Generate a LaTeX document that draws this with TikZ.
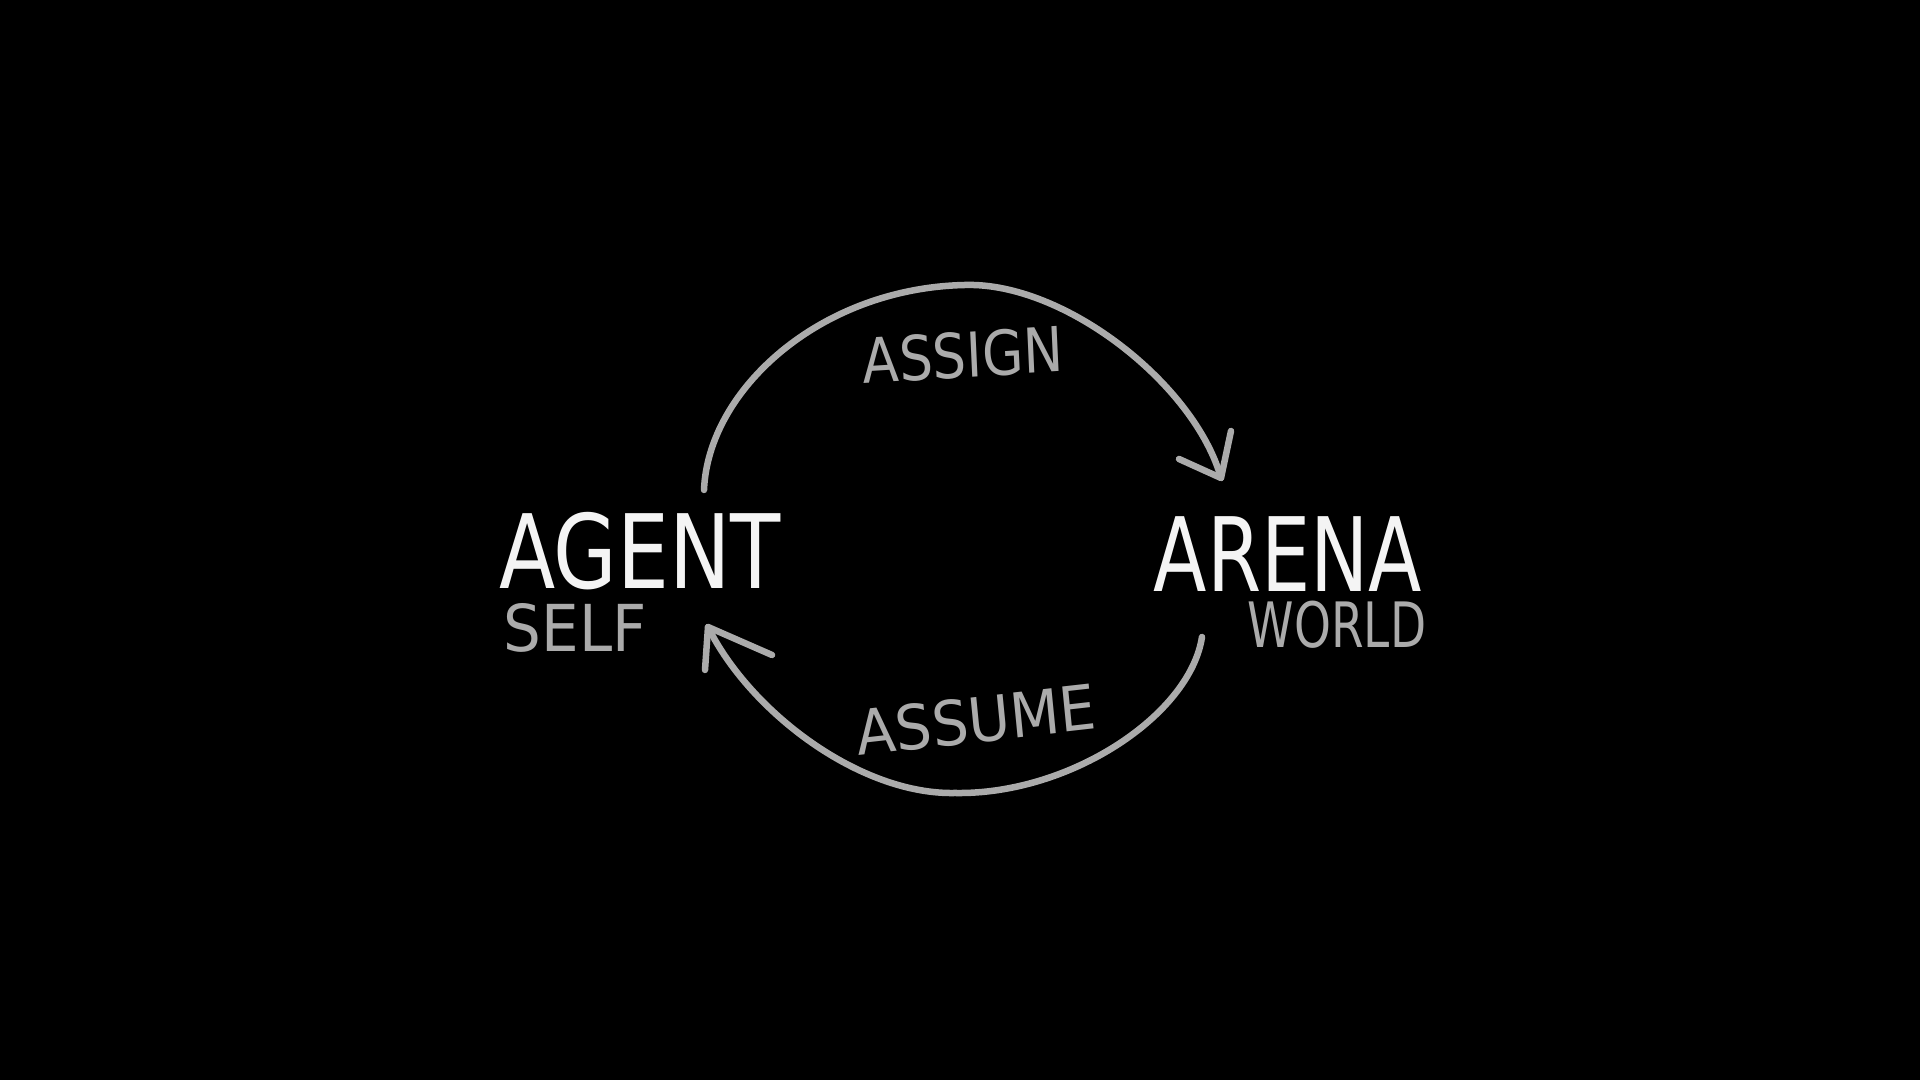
\documentclass[tikz,border=0pt]{standalone}
\usepackage{fontspec}
\setmainfont{DejaVu Sans}
\definecolor{chalkgray}{HTML}{ABABAB}
\definecolor{chalkwhite}{HTML}{F4F4F4}
\tikzset{
  bigword/.style={text=chalkwhite, inner sep=0pt, font=\fontsize{29.2}{30}\selectfont},
  subword/.style={text=chalkgray, inner sep=0pt},
  arcline/.style={draw=chalkgray, line width=1.85pt, line cap=round, line join=round},
}
\begin{document}
\begin{tikzpicture}[x=0.01cm, y=-0.01cm]
\useasboundingbox (0,0) rectangle (1920,1080);
\fill[black] (0,0) rectangle (1920,1080);

% main words
\node[bigword, xscale=0.8] (agent) at (640,551) {AGENT};
\node[subword, xscale=0.92, font=\fontsize{18.4}{19}\selectfont] (self) at (575,628) {SELF};
\node[bigword, xscale=0.76] (arena) at (1288,554) {ARENA};
\node[subword, xscale=0.75, font=\fontsize{17.8}{18}\selectfont] (world) at (1337,625) {WORLD};

% arc labels
\node[subword, xscale=0.86, rotate=3, font=\fontsize{17.6}{18}\selectfont] (assign) at (963,355) {ASSIGN};
\node[subword, xscale=0.93, rotate=6, font=\fontsize{17.6}{18}\selectfont] (assume) at (976,720) {ASSUME};

% connector end points
\coordinate (topstart) at (704,490);
\coordinate (topmid) at (965,285);
\coordinate (toptip) at (1221,478);
\coordinate (tophl) at (1179,459);
\coordinate (tophr) at (1231,431);

\coordinate (botstart) at (1202,637);
\coordinate (botmid) at (955,793);
\coordinate (bottip) at (708,627);
\coordinate (bothl) at (705,670);
\coordinate (bothr) at (772,655);

% top arc: agent -> arena
\draw[arcline] (topstart) .. controls (708,390) and (820,288) .. (topmid)
  .. controls (1065,282) and (1195,385) .. (toptip);
\draw[arcline] (tophl) -- (toptip) -- (tophr);

% bottom arc: arena -> agent
\draw[arcline] (botstart) .. controls (1190,715) and (1070,795) .. (botmid)
  .. controls (860,795) and (750,712) .. (bottip);
\draw[arcline] (bothl) -- (bottip) -- (bothr);
\end{tikzpicture}
\end{document}
